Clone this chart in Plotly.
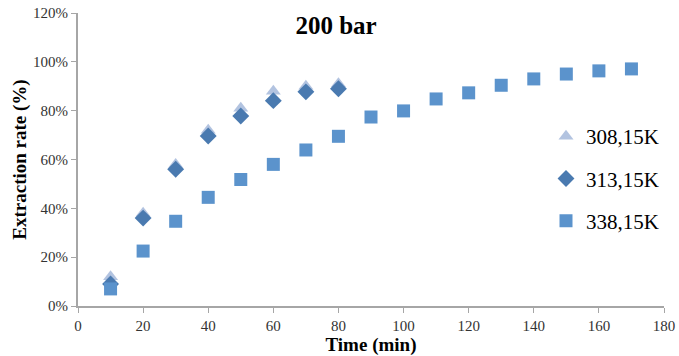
import plotly.graph_objects as go

# Extraction time (min)
time_short = [10, 20, 30, 40, 50, 60, 70, 80]
time_long = [10, 20, 30, 40, 50, 60, 70, 80, 90, 100, 110, 120, 130, 140, 150, 160, 170]

# Extraction rate (fraction) per temperature
rate_308 = [0.12, 0.38, 0.58, 0.72, 0.81, 0.88, 0.90, 0.91]
rate_313 = [0.09, 0.36, 0.56, 0.696, 0.778, 0.841, 0.877, 0.89]
rate_338 = [0.07, 0.225, 0.347, 0.445, 0.518, 0.58, 0.639, 0.695, 0.774,
            0.799, 0.848, 0.873, 0.904, 0.93, 0.95, 0.963, 0.971]

series_names = ["308,15K", "313,15K", "338,15K"]

serif = "Liberation Serif"
axis_grey = "#a6a6a6"

fig = go.Figure()
fig.add_trace(go.Scatter(
    x=time_short, y=rate_308, mode="markers", name=series_names[0], legendgroup="a",
    marker=dict(symbol="triangle-up", size=13, color="rgba(165,184,218,0.85)"),
))
fig.add_trace(go.Scatter(
    x=time_short, y=rate_313, mode="markers", name=series_names[1], legendgroup="b",
    marker=dict(symbol="diamond", size=13, color="#4a7ab0"),
))
fig.add_trace(go.Scatter(
    x=time_long, y=rate_338, mode="markers", name=series_names[2], legendgroup="c",
    marker=dict(symbol="square", size=13, color="#5b93cc"),
))

fig.update_layout(
    width=679, height=356,
    margin=dict(l=78, r=15, t=13, b=50),
    paper_bgcolor="white", plot_bgcolor="white",
    font=dict(family=serif, color="#262626"),
    title=dict(text="<b>200 bar</b>", x=336 / 679, xanchor="center",
               y=1 - 25 / 356, yanchor="middle", automargin=False,
               font=dict(family=serif, size=25, color="black")),
    xaxis=dict(
        range=[0, 180], tickvals=list(range(0, 181, 20)), automargin=False,
        showgrid=False, zeroline=False, showline=True, linecolor=axis_grey, linewidth=2,
        ticks="outside", ticklen=5, tickcolor=axis_grey, tickwidth=1,
        tickfont=dict(family=serif, size=15, color="#333333"),
        title=dict(text="<b>Time (min)</b>", standoff=4,
                   font=dict(family=serif, size=19, color="black")),
    ),
    yaxis=dict(
        range=[0, 1.2], tickvals=[0, 0.2, 0.4, 0.6, 0.8, 1.0, 1.2], tickformat=".0%",
        automargin=False,
        showgrid=False, zeroline=False, showline=True, linecolor=axis_grey, linewidth=2,
        ticks="outside", ticklen=5, tickcolor=axis_grey, tickwidth=1,
        tickfont=dict(family=serif, size=15, color="#333333"),
        title=dict(text="<b>Extraction rate (%)</b>", standoff=1,
                   font=dict(family=serif, size=19, color="black")),
    ),
    legend=dict(
        x=1.0, y=(306 - 116) / 293, xanchor="right", yanchor="top",
        font=dict(family=serif, size=21, color="black"),
        bgcolor="rgba(0,0,0,0)", tracegroupgap=12, itemwidth=30,
    ),
)

fig.write_html("out.html")
